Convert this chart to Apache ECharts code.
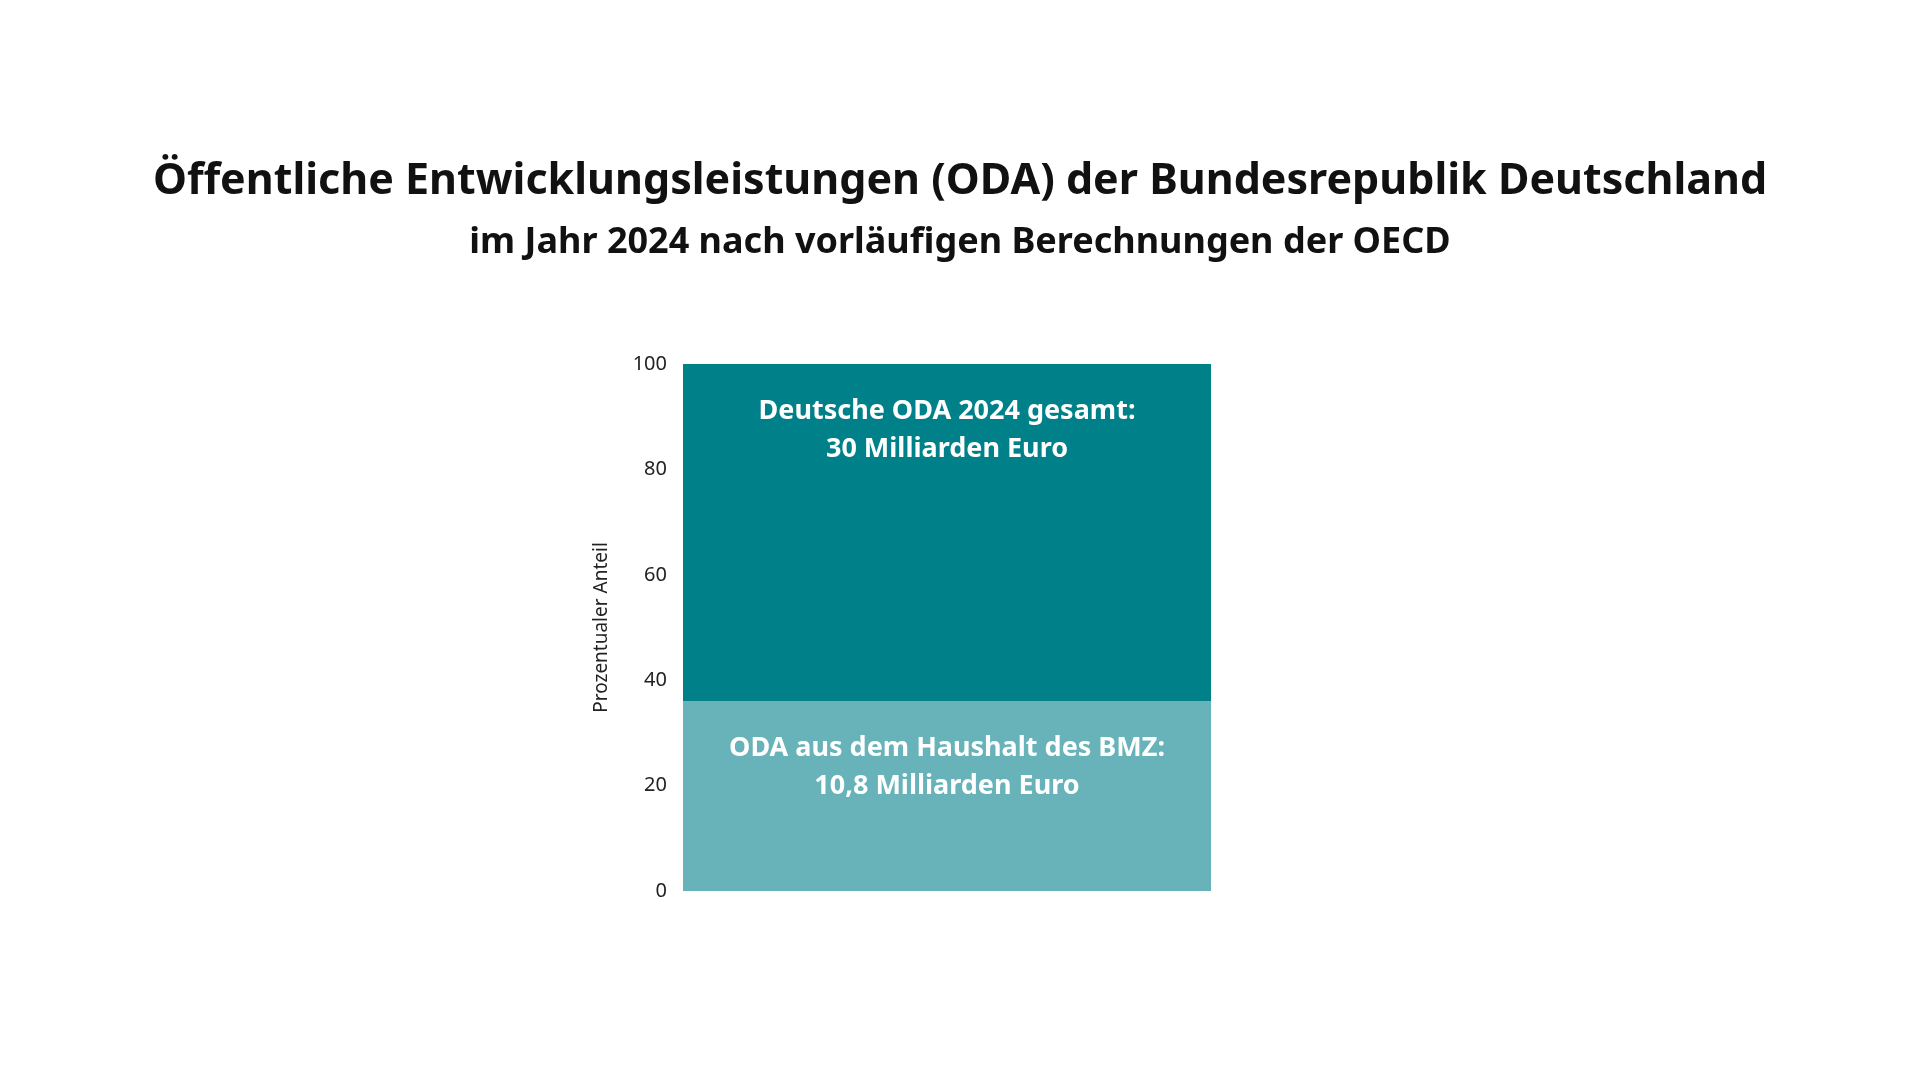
<!DOCTYPE html>
<html lang="de" style="height: 100%">
<head>
  <meta charset="utf-8">
</head>
<body style="height: 100%; margin: 0; background: #fff">
  <div id="container" style="width: 1920px; height: 1080px"></div>
  <script type="text/javascript" src="https://fastly.jsdelivr.net/npm/echarts@6/dist/echarts.min.js"></script>
  <script type="text/javascript">
    var categories = ['2024'];
    var bmzShare = [36];
    var restShare = [64];
    var bmzLabel = 'ODA aus dem Haushalt des BMZ:\n10,8 Milliarden Euro';
    var totalLabel = 'Deutsche ODA 2024 gesamt:\n30 Milliarden Euro';
    var yTicks = [0, 20, 40, 60, 80, 100];

    var myChart = echarts.init(document.getElementById('container'), null, { renderer: 'canvas' });
    var font = '"Noto Sans", sans-serif';

    var segLabel = function (text) {
      return {
        show: true,
        position: 'insideTop',
        distance: 28,
        formatter: text,
        color: '#fff',
        fontFamily: font,
        fontWeight: 'bold',
        fontSize: 27,
        lineHeight: 38
      };
    };

    var option = {
      title: [
        {
          text: 'Öffentliche Entwicklungsleistungen (ODA) der Bundesrepublik Deutschland',
          left: 'center', top: 155,
          textStyle: { fontFamily: font, fontWeight: 'bold', fontSize: 43, color: '#111' }
        },
        {
          text: 'im Jahr 2024 nach vorläufigen Berechnungen der OECD',
          left: 'center', top: 220,
          textStyle: { fontFamily: font, fontWeight: 'bold', fontSize: 36, color: '#111' }
        }
      ],
      grid: { left: 683, right: 709, top: 364, bottom: 189 },
      xAxis: {
        type: 'category',
        data: categories,
        show: false
      },
      yAxis: {
        type: 'value',
        min: yTicks[0],
        max: yTicks[yTicks.length - 1],
        interval: 20,
        name: 'Prozentualer Anteil',
        nameLocation: 'middle',
        nameGap: 72,
        nameTextStyle: { fontFamily: font, fontSize: 19, color: '#222' },
        axisLine: { show: false },
        axisTick: { show: false },
        splitLine: { show: false },
        axisLabel: { fontFamily: font, fontSize: 20, color: '#222', margin: 16 }
      },
      series: [
        {
          type: 'bar', stack: 'oda', barWidth: '100%',
          data: bmzShare,
          itemStyle: { color: '#67B3B9' },
          label: segLabel(bmzLabel)
        },
        {
          type: 'bar', stack: 'oda', barWidth: '100%',
          data: restShare,
          itemStyle: { color: '#00818A' },
          label: segLabel(totalLabel)
        }
      ]
    };
    myChart.setOption(option);
  </script>
</body>
</html>
